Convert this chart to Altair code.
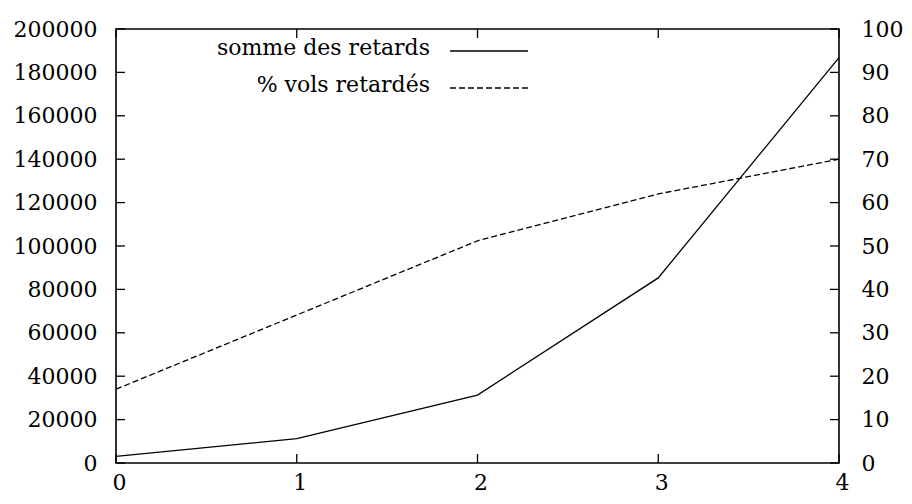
import altair as alt
import pandas as pd

# data
x_vals = [0, 1, 2, 3, 4]
retards = [3100, 11200, 31300, 85300, 186800]
pct_retardes = [17.0, 34.1, 51.2, 62.0, 70.0]

x_ticks = [0, 1, 2, 3, 4]
left_ticks = [0, 20000, 40000, 60000, 80000, 100000, 120000, 140000, 160000, 180000, 200000]
right_ticks = [0, 10, 20, 30, 40, 50, 60, 70, 80, 90, 100]
legend_labels = ["somme des retards", "% vols retardés"]

W, H = 723, 434
FONT = "DejaVu Serif"
FS = 22
TL = 9

df = pd.DataFrame({"x": x_vals, "retards": retards, "pct": pct_retardes})
df_xt = pd.DataFrame({"t": x_ticks})
df_lt = pd.DataFrame({"v": left_ticks})
df_rt = pd.DataFrame({"v": right_ticks})

xscale = alt.Scale(domain=[0, 4], nice=False, zero=False)
yl_scale = alt.Scale(domain=[0, 200000], nice=False)
yr_scale = alt.Scale(domain=[0, 100], nice=False)

x_axis = alt.Axis(values=x_ticks, ticks=False, domain=False, grid=False, title=None,
                  format="d", labelFont=FONT, labelFontSize=FS, labelColor="black",
                  labelPadding=9, labelOffset=3, labelFlush=False)
yl_axis = alt.Axis(orient="left", values=left_ticks, ticks=False, domain=False,
                   grid=False, title=None, format="d", labelFont=FONT, labelFontSize=FS,
                   labelColor="black", labelPadding=19, labelFlush=False)
yr_axis = alt.Axis(orient="right", values=right_ticks, ticks=False, domain=False,
                   grid=False, title=None, format="d", labelFont=FONT, labelFontSize=FS,
                   labelColor="black", labelPadding=22, labelFlush=False)

solid = alt.Chart(df).mark_line(color="black", strokeWidth=1.3).encode(
    x=alt.X("x:Q", scale=xscale, axis=x_axis),
    y=alt.Y("retards:Q", scale=yl_scale, axis=yl_axis),
)

xt_bottom = alt.Chart(df_xt).mark_rule(color="black", strokeWidth=1.3).encode(
    x=alt.X("t:Q", scale=xscale, axis=x_axis),
    y=alt.value(H), y2=alt.value(H - TL),
)
xt_top = alt.Chart(df_xt).mark_rule(color="black", strokeWidth=1.3).encode(
    x=alt.X("t:Q", scale=xscale, axis=x_axis),
    y=alt.value(0), y2=alt.value(TL),
)
lt = alt.Chart(df_lt).mark_rule(color="black", strokeWidth=1.3).encode(
    y=alt.Y("v:Q", scale=yl_scale, axis=yl_axis),
    x=alt.value(0), x2=alt.value(TL),
)

leg1_text = alt.Chart(df.head(1)).mark_text(
    text=legend_labels[0], align="right", baseline="middle", font=FONT, fontSize=FS, color="black"
).encode(x=alt.value(314), y=alt.value(19))
leg2_text = alt.Chart(df.head(1)).mark_text(
    text=legend_labels[1], align="right", baseline="middle", font=FONT, fontSize=FS, color="black"
).encode(x=alt.value(314), y=alt.value(56))
leg1_line = alt.Chart(df.head(1)).mark_rule(color="black", strokeWidth=1.3).encode(
    x=alt.value(334), x2=alt.value(412), y=alt.value(22))
leg2_line = alt.Chart(df.head(1)).mark_rule(color="black", strokeWidth=1.3, strokeDash=[6, 3]).encode(
    x=alt.value(334), x2=alt.value(412), y=alt.value(59))

left_group = alt.layer(solid, xt_bottom, xt_top, lt, leg1_text, leg1_line, leg2_text, leg2_line)

dashed = alt.Chart(df).mark_line(color="black", strokeWidth=1.3, strokeDash=[6, 3]).encode(
    x=alt.X("x:Q", scale=xscale, axis=x_axis),
    y=alt.Y("pct:Q", scale=yr_scale, axis=yr_axis),
)
rt = alt.Chart(df_rt).mark_rule(color="black", strokeWidth=1.3).encode(
    y=alt.Y("v:Q", scale=yr_scale, axis=yr_axis),
    x=alt.value(W - TL), x2=alt.value(W),
)
right_group = alt.layer(dashed, rt)

chart = alt.layer(left_group, right_group).resolve_scale(y="independent").properties(
    width=W, height=H,
    background="white",
    autosize=alt.AutoSizeParams(type="none"),
    padding={"left": 108, "top": 21, "right": 65, "bottom": 33},
).configure_view(stroke="black", strokeWidth=1.6)

chart.save("out.html", embed_options={"renderer": "svg", "actions": False})
